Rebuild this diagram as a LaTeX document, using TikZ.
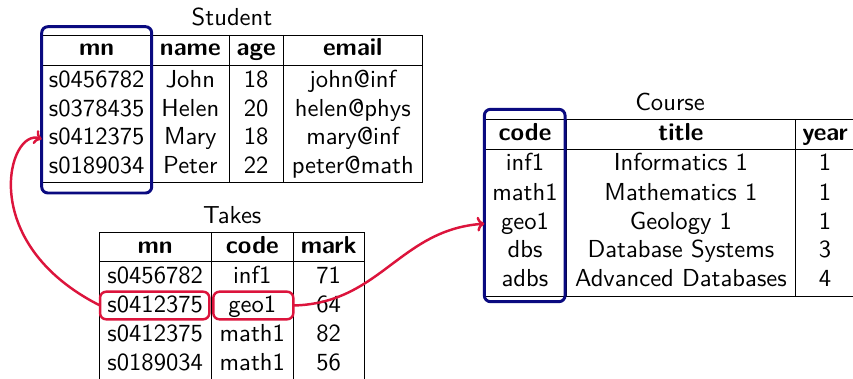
\documentclass[tikz,border=0pt]{standalone}
\usepackage{fontspec}
\usetikzlibrary{arrows.meta}
\newcommand\pxu{0.4065pt}
\definecolor{keyblue}{RGB}{10,10,128}
\definecolor{fkred}{RGB}{220,20,60}
\begin{document}
\begin{tikzpicture}[x=\pxu, y=-\pxu,
  every node/.style={font=\sffamily},
  cell/.style={anchor=base, inner sep=0pt},
  head/.style={cell, font=\sffamily\bfseries},
  rule/.style={line width=0.4pt, black},
  keybox/.style={draw=keyblue, line width=1.2pt, rounded corners=2.5pt, inner sep=0pt, outer sep=0pt},
  refbox/.style={draw=fkred, line width=1pt, rounded corners=2.5pt, inner sep=0pt, outer sep=0pt},
  fk/.style={draw=fkred, line width=1pt, -{To[length=3pt,width=6pt]}}]

\useasboundingbox (0,0) rectangle (853,378);
\clip (0,0) rectangle (853,378);

% ---------------- Student ----------------
\node[cell] (st-title) at (232,26) {Student};
\draw[rule] (41.7,35) -- (422.3,35) (41.7,65.7) -- (422.3,65.7) (41.7,182.7) -- (422.3,182.7);
\foreach \x in {41.7,151.7,229,283.3,422.3} \draw[rule] (\x,35) -- (\x,182.7);
\foreach \x/\t/\n in {96.7/mn/1, 190.3/name/2, 256.2/age/3, 352.8/email/4}
  \node[head] (st-h\n) at (\x,55.5) {\t};
\foreach \y/\r/\a/\b/\c/\d in {87.5/1/s0456782/John/18/john@inf,
                               116/2/s0378435/Helen/20/helen@phys,
                               144.5/3/s0412375/Mary/18/mary@inf,
                               173/4/s0189034/Peter/22/peter@math} {
  \node[cell] (st-\r-1) at (96.7,\y) {\a};
  \node[cell] (st-\r-2) at (190.3,\y) {\b};
  \node[cell] (st-\r-3) at (256.2,\y) {\c};
  \node[cell] (st-\r-4) at (352.8,\y) {\d};
}
\node[keybox, minimum width=110*\pxu, minimum height=166.3*\pxu] (st-key) at (96.7,109.85) {};

% ---------------- Takes ----------------
\node[cell] (tk-title) at (232.3,223.3) {Takes};
\draw[rule] (99,232.3) -- (364,232.3) (99,261) -- (364,261) (99,380.3) -- (364,380.3);
\foreach \x in {99,211.3,293.3,364} \draw[rule] (\x,232.3) -- (\x,380.3);
\foreach \x/\t/\n in {155.2/mn/1, 252.3/code/2, 328.7/mark/3}
  \node[head] (tk-h\n) at (\x,253.3) {\t};
\foreach \y/\r/\a/\b/\c in {283.3/1/s0456782/inf1/71,
                            312.3/2/s0412375/geo1/64,
                            341.7/3/s0412375/math1/82,
                            370.7/4/s0189034/math1/56} {
  \node[cell] (tk-\r-1) at (155.2,\y) {\a};
  \node[cell] (tk-\r-2) at (252.3,\y) {\b};
  \node[cell] (tk-\r-3) at (328.7,\y) {\c};
}
\node[refbox, minimum width=109.3*\pxu, minimum height=27.6*\pxu] (tk-ref1) at (154.7,305.5) {};
\node[refbox, minimum width=80*\pxu, minimum height=27.6*\pxu] (tk-ref2) at (253.3,305.5) {};

% ---------------- Course ----------------
\node[cell] (cs-title) at (670,110) {Course};
\draw[rule] (483.3,119.3) -- (855,119.3) (483.3,149.3) -- (855,149.3) (483.3,296) -- (855,296);
\foreach \x in {483.3,566.7,795,855} \draw[rule] (\x,119.3) -- (\x,296);
\foreach \x/\t/\n in {525/code/1, 680.9/title/2, 825/year/3}
  \node[head] (cs-h\n) at (\x,140) {\t};
\foreach \y/\r/\a/\b/\c in {170.7/1/inf1/Informatics 1/1,
                            200/2/math1/Mathematics 1/1,
                            229/3/geo1/Geology 1/1,
                            257.3/4/dbs/Database Systems/3,
                            286.7/5/adbs/Advanced Databases/4} {
  \node[cell] (cs-\r-1) at (525,\y) {\a};
  \node[cell] (cs-\r-2) at (680.9,\y) {\b};
  \node[cell] (cs-\r-3) at (825,\y) {\c};
}
\node[keybox, minimum width=80.7*\pxu, minimum height=192.4*\pxu] (cs-key) at (524.7,205.5) {};

% ---------------- foreign-key references ----------------
\draw[fk] (tk-ref1.west) .. controls +(-125,-63) and +(-33,-12) .. (st-key.west |- st-3-1.mid);
\draw[fk] (tk-ref2.east) .. controls +(87,-2) and +(-85,6) .. (cs-key.west |- cs-3-1.mid);
\end{tikzpicture}
\end{document}
